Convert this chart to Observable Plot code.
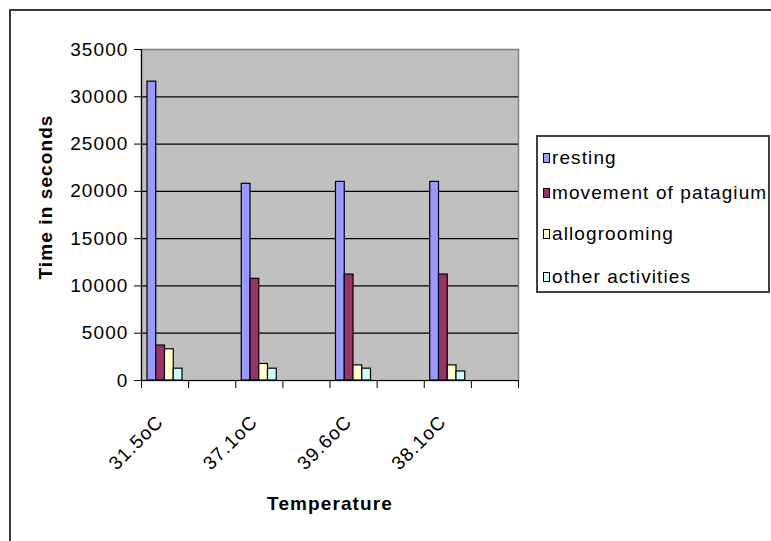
<!DOCTYPE html>
<html>
<head>
<meta charset="utf-8">
<script src="https://cdn.jsdelivr.net/npm/d3@7"></script>
<script src="https://cdn.jsdelivr.net/npm/@observablehq/plot@0.6"></script>
<style>
  html, body { margin: 0; padding: 0; background: #fff; }
  #wrap { position: relative; width: 771px; height: 541px; overflow: hidden; background: #fff;
          font-family: "Liberation Sans", Arial, sans-serif; }
  #outer { position: absolute; left: 9px; top: 9px; width: 900px; height: 700px;
           border: 2px solid #3a3a3a; box-sizing: border-box; }
  #chart { position: absolute; left: 0; top: 0; }
  #legend { position: absolute; left: 536px; top: 135px; width: 234px; height: 158px;
            border: 2px solid #404040; box-sizing: border-box; background: #fff; }
  .item { position: absolute; left: 0; height: 20px; display: flex; align-items: center;
          font-size: 19px; letter-spacing: 1.1px; color: #000; white-space: nowrap; }
  .sw { width: 5px; height: 8px; border: 1px solid #000; margin-left: 5px; margin-right: 2px; flex: none; }
</style>
</head>
<body>
<div id="wrap">
  <div id="outer"></div>
  <div id="chart"></div>
  <div id="legend"></div>
</div>
<script>
// ---- data ----
const temperatures = ["31.5oC", "37.1oC", "39.6oC", "38.1oC"];
const emptySlots = ["_gap1", "_gap2", "_gap3", "_gap4"]; // unlabeled empty categories
const seriesNames = ["resting", "movement of patagium", "allogrooming", "other activities"];
const resting = [31600, 20800, 21000, 21000];
const movementOfPatagium = [3700, 10750, 11200, 11200];
const allogrooming = [3300, 1750, 1600, 1600];
const otherActivities = [1250, 1250, 1250, 950];
const seriesColors = ["#9999ff", "#993366", "#ffffcc", "#ccffff"];
const yTicks = [0, 5000, 10000, 15000, 20000, 25000, 30000, 35000];
const xLabel = "Temperature";
const yLabel = "Time in seconds";

const seriesValues = [resting, movementOfPatagium, allogrooming, otherActivities];
const xDomain = temperatures.flatMap((t, i) => [t, emptySlots[i]]);

// ---- layout ----
const W = 771, H = 541, mL = 141, mR = 253, mT = 49, mB = 161;
const bw = (W - mL - mR) / xDomain.length;
const groupPad = 6, barW = 8.75;

const barMarks = seriesValues.map((vals, i) =>
  Plot.barY(temperatures.map((t, j) => ({t, v: vals[j]})), {
    x: "t", y: "v", fill: seriesColors[i], stroke: "#000", strokeWidth: 1.2,
    insetLeft: groupPad + i * barW,
    insetRight: bw - groupPad - (i + 1) * barW
  })
);

const chart = Plot.plot({
  width: W, height: H,
  marginLeft: mL, marginRight: mR, marginTop: mT, marginBottom: mB,
  style: {fontFamily: "'Liberation Sans', Arial, sans-serif", fontSize: "19px", letterSpacing: "1.1px", color: "#000", background: "transparent", overflow: "visible"},
  x: {type: "band", domain: xDomain, padding: 0, round: false},
  y: {domain: [0, 35000], round: false},
  marks: [
    Plot.frame({fill: "#c0c0c0", stroke: "#808080", strokeWidth: 1.5}),
    Plot.ruleY(yTicks.filter(v => v > 0 && v < 35000), {stroke: "#000", strokeWidth: 1.2}),
    ...barMarks,
    Plot.ruleY([0], {stroke: "#000", strokeWidth: 1.2}),
    Plot.ruleX([xDomain[0]], {dx: -bw / 2, stroke: "#000", strokeWidth: 1.2}),
    Plot.axisY({ticks: yTicks, tickSize: 7, tickPadding: 6, tickFormat: d => String(d), label: null, stroke: "#000", fill: "#000"}),
    Plot.axisX({ticks: xDomain, tickSize: 8, tickFormat: () => "", dx: -bw / 2, label: null, stroke: "#000"}),
    Plot.axisX({ticks: [xDomain[xDomain.length - 1]], tickSize: 8, tickFormat: () => "", dx: bw / 2, label: null, stroke: "#000"}),
    Plot.text(temperatures, {x: d => d, frameAnchor: "bottom", rotate: -45, textAnchor: "end", lineAnchor: "top", dx: -10, dy: 33, fill: "#000"}),
    Plot.text([xLabel], {frameAnchor: "bottom", dy: 123, fontWeight: "bold", textAnchor: "middle", lineAnchor: "middle", fill: "#000"}),
    Plot.text([yLabel], {frameAnchor: "left", rotate: -90, dx: -96, dy: -18, fontWeight: "bold", textAnchor: "middle", lineAnchor: "middle", fill: "#000"})
  ]
});
document.getElementById("chart").appendChild(chart);

// ---- legend ----
const rowCenters = [21, 56, 97, 140]; // vertical centers inside the legend box
const legend = d3.select("#legend");
seriesNames.forEach((name, i) => {
  const item = legend.append("div").attr("class", "item").style("top", (rowCenters[i] - 10) + "px");
  item.append("div").attr("class", "sw").style("background", seriesColors[i]);
  item.append("span").text(name);
});
</script>
</body>
</html>
